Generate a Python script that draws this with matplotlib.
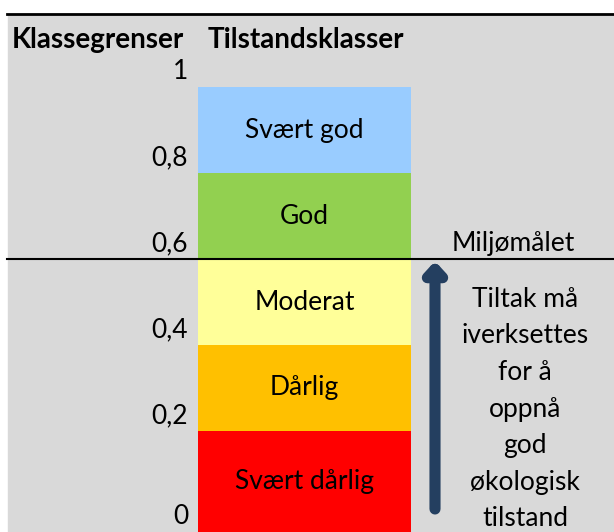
import matplotlib.pyplot as plt
from matplotlib.patches import Rectangle

plt.rcParams['font.family'] = ['Lato', 'DejaVu Sans']

# klassegrenser og tilstandsklasser (nederst til øverst)
grenser = [0, 0.2, 0.4, 0.6, 0.8, 1.0]
grense_etiketter = ['0', '0,2', '0,4', '0,6', '0,8', '1']
klasser = ['Svært dårlig', 'Dårlig', 'Moderat', 'God', 'Svært god']
farger = ['#FF0000', '#FFC000', '#FFFF99', '#92D050', '#99CCFF']
miljomal = 0.6
tiltak_tekst = ['Tiltak må', 'iverksettes', 'for å', 'oppnå', 'god', 'økologisk', 'tilstand']

W, H = 614, 532
NULL, SKALA = 517, 430   # piksel for 0 og piksler per enhet
fig = plt.figure(figsize=(W / 100, H / 100), dpi=100)
ax = fig.add_axes([0, 0, 1, 1])
ax.set_xlim(0, W)
ymin = -(H - NULL) / SKALA
ymax = NULL / SKALA
ax.set_ylim(ymin, ymax)
ax.axis('off')

def py(p):
    # piksel fra toppen -> dataverdi
    return (NULL - p) / SKALA

# grå bakgrunn
ax.add_patch(Rectangle((8, ymin), W - 8, py(15) - ymin, color='#D9D9D9', zorder=0))
ax.plot([7, W], [py(14), py(14)], color='black', lw=2, zorder=5)

# stolpene
bunner = list(grenser[:-1])
bunner[0] = ymin
hoyder = [grenser[i + 1] - bunner[i] for i in range(len(klasser))]
ax.bar(304.5, hoyder, bottom=bunner, width=213, color=farger, zorder=2)
for i, k in enumerate(klasser):
    ax.text(304.5, bunner[i] + hoyder[i] / 2, k, ha='center', va='center',
            fontsize=19, zorder=4)

# grenseetiketter
for g, lab in zip(grenser, grense_etiketter):
    if g == 0:
        ax.text(188, py(517), lab, ha='right', va='center', fontsize=19)
    else:
        ax.text(188, g + 0.006, lab, ha='right', va='bottom', fontsize=19)

ax.text(12, py(40), 'Klassegrenser', ha='left', va='center', fontsize=20, fontweight='bold')
ax.text(208, py(40), 'Tilstandsklasser', ha='left', va='center', fontsize=20, fontweight='bold')

# miljømålet
ax.plot([7, W], [miljomal, miljomal], color='black', lw=1.5, zorder=5)
ax.text(513, miljomal + 0.008, 'Miljømålet', ha='center', va='bottom', fontsize=19)

# pil
ax.annotate('', xy=(435, miljomal - 0.005), xytext=(435, py(509)),
            arrowprops=dict(arrowstyle='-|>,head_length=0.6,head_width=0.55',
                            lw=8, color='#243F60', shrinkA=0, shrinkB=0), zorder=3)
ax.text(525, py(409), '\n'.join(tiltak_tekst), ha='center', va='center',
        fontsize=19, linespacing=1.58)

fig.savefig('out.png', dpi=100)
